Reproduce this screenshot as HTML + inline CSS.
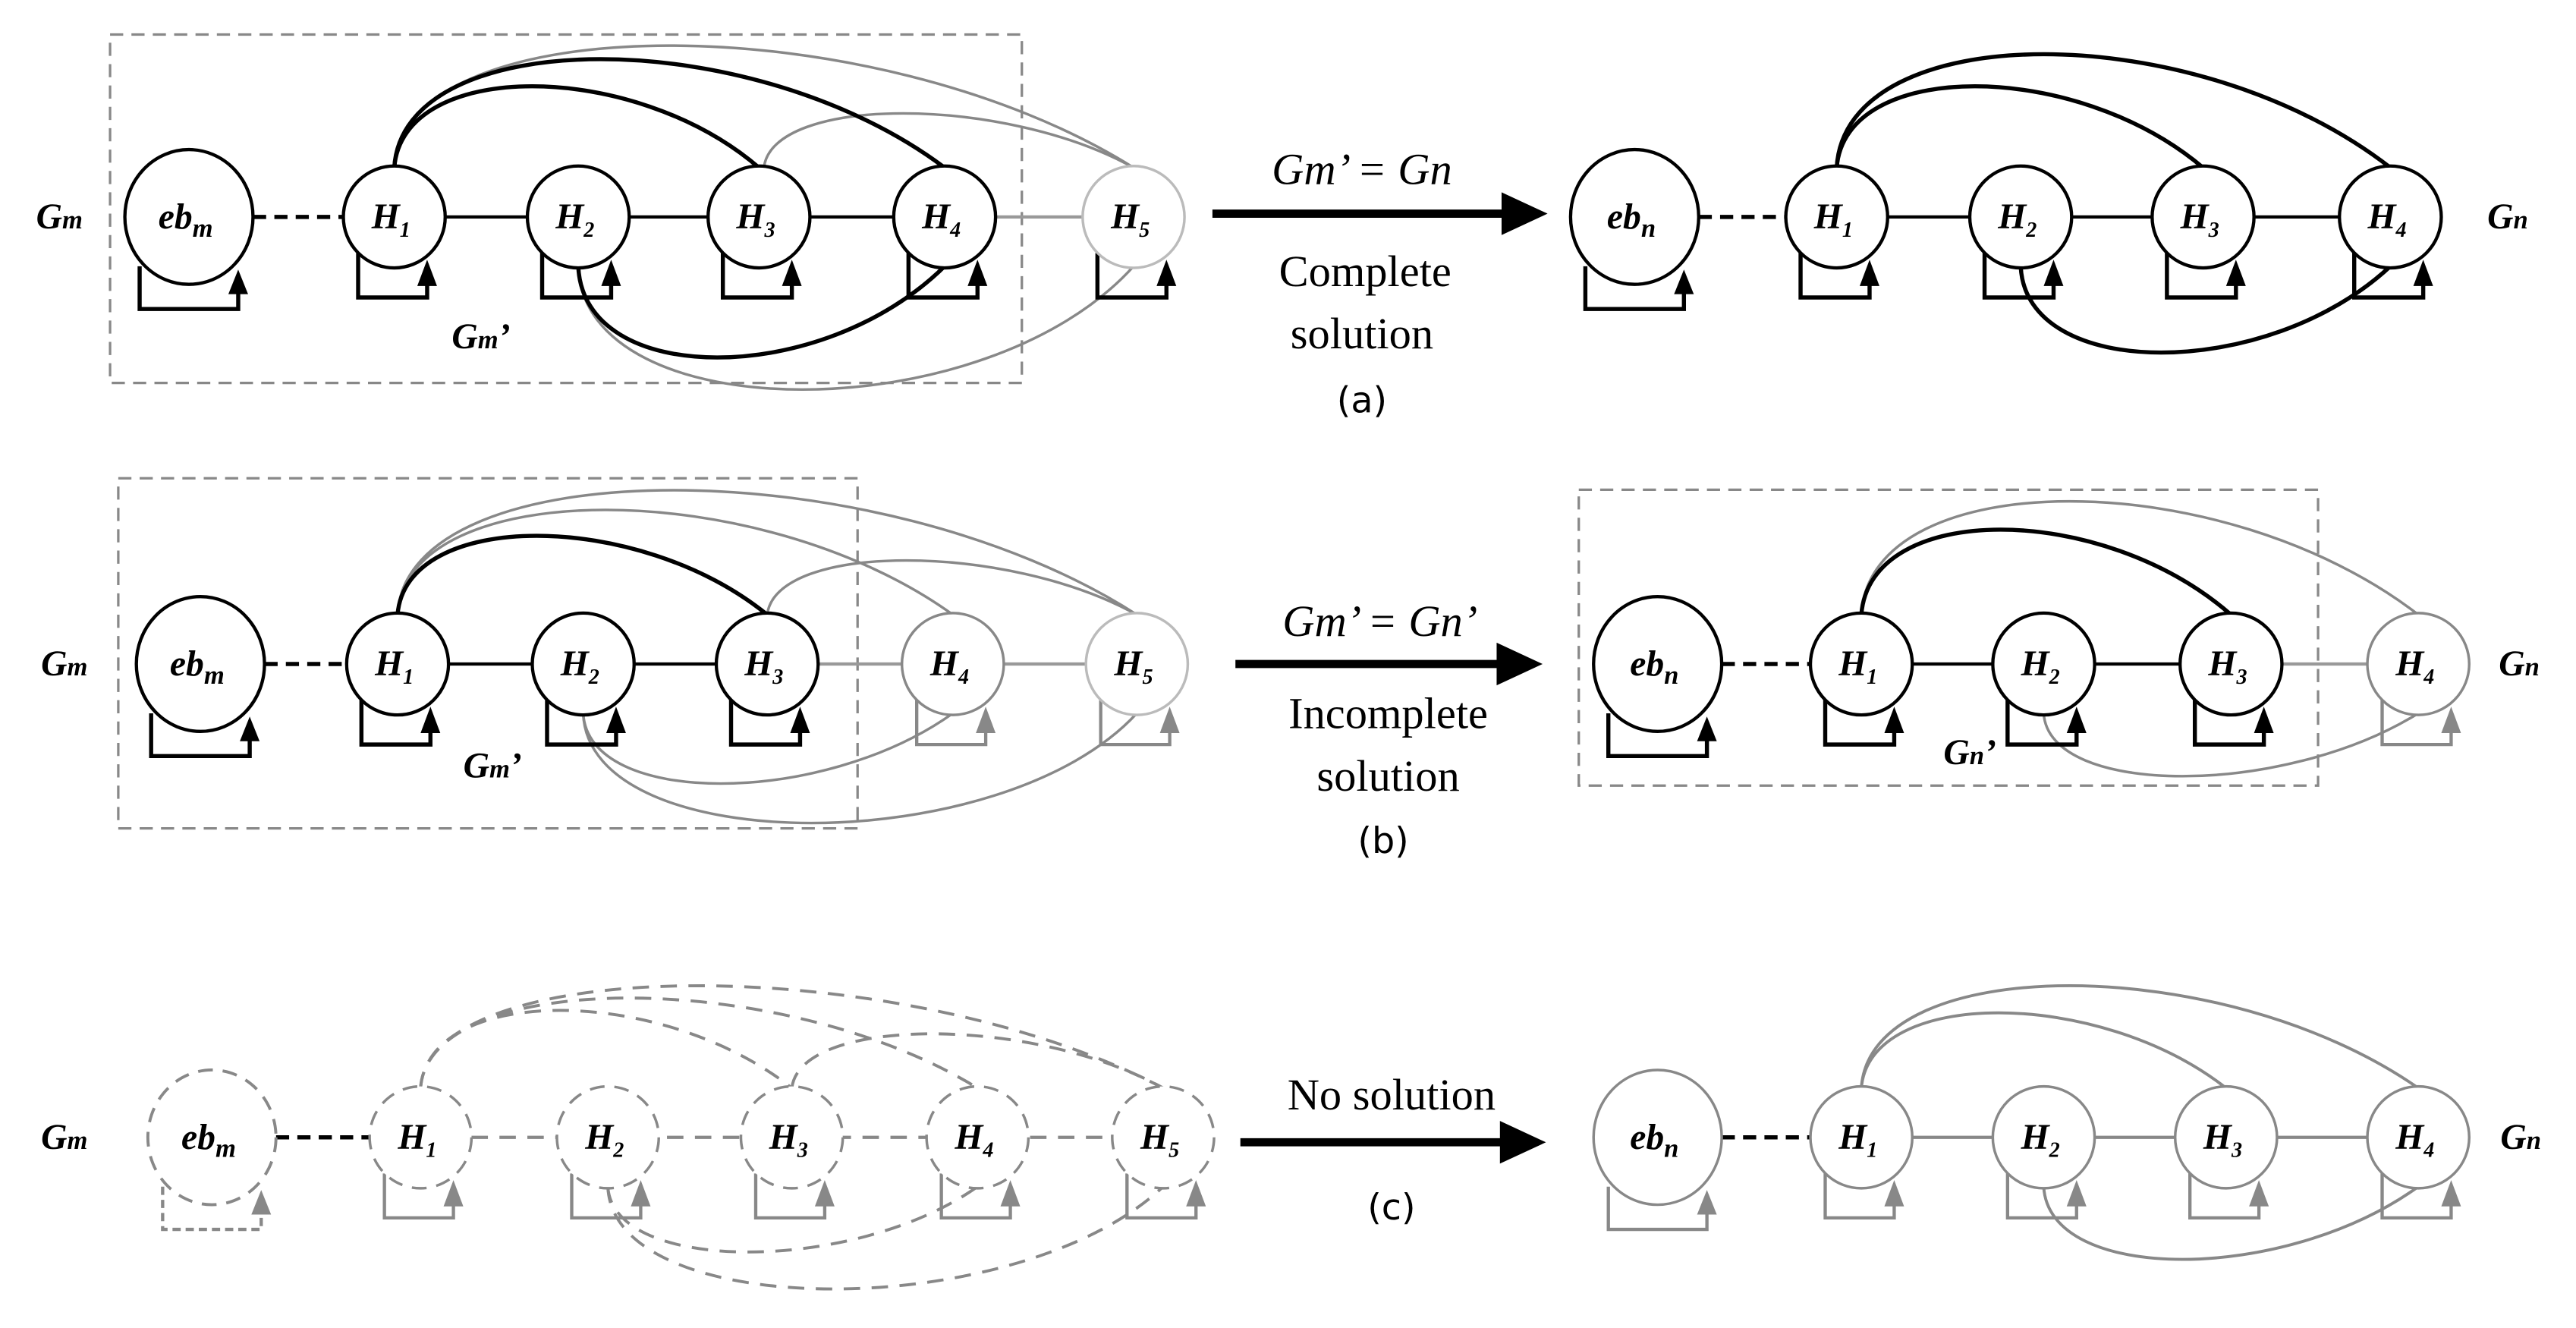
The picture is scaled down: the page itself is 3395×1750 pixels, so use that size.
<!DOCTYPE html>
<html><head><meta charset="utf-8"><style>
html,body{margin:0;padding:0;background:#fff;}
svg{display:block;}
text{font-family:"Liberation Serif",serif;}
.n{font-size:22px;font-weight:bold;font-style:italic;}
.lb{font-size:22px;font-style:italic;font-weight:bold;}
.t{font-size:27px;}
.p{font-family:"DejaVu Sans","Liberation Sans",sans-serif;font-size:22px;}
</style></head><body>
<svg width="3395" height="1750" viewBox="0 0 1568 808" preserveAspectRatio="none" xmlns="http://www.w3.org/2000/svg">
<defs>
<g id="hk"><path d="M-22 22V49H20V40" fill="none" stroke="#000" stroke-width="2.5"/><polygon points="14,42 26,42 20,26" fill="#000"/><ellipse rx="31" ry="31" fill="#fff" stroke="#000" stroke-width="2"/></g>
<g id="hg"><path d="M-22 22V49H20V40" fill="none" stroke="#888" stroke-width="2"/><polygon points="14,42 26,42 20,26" fill="#888"/><ellipse rx="31" ry="31" fill="#fff" stroke="#888" stroke-width="1.6"/></g>
<g id="hl"><path d="M-22 22V49H20V40" fill="none" stroke="#000" stroke-width="2.5"/><polygon points="14,42 26,42 20,26" fill="#000"/><ellipse rx="31" ry="31" fill="#fff" stroke="#bbb" stroke-width="1.6"/></g>
<g id="hlg"><path d="M-22 22V49H20V40" fill="none" stroke="#888" stroke-width="2"/><polygon points="14,42 26,42 20,26" fill="#888"/><ellipse rx="31" ry="31" fill="#fff" stroke="#bbb" stroke-width="1.6"/></g>
<g id="hd"><path d="M-22 22V49H20V40" fill="none" stroke="#888" stroke-width="2"/><polygon points="14,42 26,42 20,26" fill="#888"/><ellipse rx="31" ry="31" fill="#fff" stroke="#888" stroke-width="1.6" stroke-dasharray="9,6"/></g>
<g id="ek"><path d="M-30 30V56H30V46" fill="none" stroke="#000" stroke-width="2.5"/><polygon points="24,47 36,47 30,32" fill="#000"/><ellipse rx="39" ry="41" fill="#fff" stroke="#000" stroke-width="2"/></g>
<g id="eg"><path d="M-30 30V56H30V46" fill="none" stroke="#888" stroke-width="2"/><polygon points="24,47 36,47 30,32" fill="#888"/><ellipse rx="39" ry="41" fill="#fff" stroke="#888" stroke-width="1.6"/></g>
<g id="ed"><path d="M-30 30V56H30V46" fill="none" stroke="#888" stroke-width="2" stroke-dasharray="5,3"/><polygon points="24,47 36,47 30,32" fill="#888"/><ellipse rx="39" ry="41" fill="#fff" stroke="#888" stroke-width="1.8" stroke-dasharray="9,6"/></g>
</defs>

<!-- ROW A LEFT -->
<rect x="67" y="21" width="555" height="212" fill="none" stroke="#888" stroke-width="1.5" stroke-dasharray="8,5"/>
<line x1="154" y1="132" x2="209" y2="132" stroke="#000" stroke-width="2.5" stroke-dasharray="8,5"/>
<line x1="271" y1="132" x2="544" y2="132" stroke="#000" stroke-width="2"/>
<line x1="606" y1="132" x2="659" y2="132" stroke="#999" stroke-width="2"/>
<g fill="none">
<path d="M240 102C245 3,532 3,690 102" stroke="#888" stroke-width="1.6"/>
<path d="M465 102C470 58,611 58,690 102" stroke="#888" stroke-width="1.6"/>
<path d="M240 102C245 36,385 36,462 102" stroke="#000" stroke-width="2.5"/>
<path d="M240 102C245 14,458 14,575 102" stroke="#000" stroke-width="2.5"/>
<path d="M352 162C355 262,600 262,690 162" stroke="#888" stroke-width="1.6"/>
<path d="M352 162C355 236,500 236,575 162" stroke="#000" stroke-width="2.5"/>
</g>
<use href="#ek" x="115" y="132"/><use href="#hk" x="240" y="132"/><use href="#hk" x="352" y="132"/><use href="#hk" x="462" y="132"/><use href="#hk" x="575" y="132"/><use href="#hl" x="690" y="132"/>
<g class="n" text-anchor="middle">
<text x="113" y="139">eb<tspan font-size="16" dy="5">m</tspan></text>
<text x="238" y="139">H<tspan font-size="13" dy="5">1</tspan></text>
<text x="350" y="139">H<tspan font-size="13" dy="5">2</tspan></text>
<text x="460" y="139">H<tspan font-size="13" dy="5">3</tspan></text>
<text x="573" y="139">H<tspan font-size="13" dy="5">4</tspan></text>
<text x="688" y="139">H<tspan font-size="13" dy="5">5</tspan></text>
</g>
<text class="lb" x="22" y="139">G<tspan font-size="16">m</tspan></text>
<text class="lb" x="275" y="212">G<tspan font-size="16">m</tspan>’</text>
<line x1="738" y1="130" x2="918" y2="130" stroke="#000" stroke-width="5"/>
<polygon points="914,117 942,130 914,143" fill="#000"/>
<text x="829" y="112" text-anchor="middle" class="t" font-style="italic">Gm’ = Gn</text>
<text x="831" y="174" text-anchor="middle" class="t">Complete</text>
<text x="829" y="212" text-anchor="middle" class="t">solution</text>
<text x="829" y="251" text-anchor="middle" class="p">(a)</text>

<!-- ROW A RIGHT -->
<line x1="1034" y1="132" x2="1087" y2="132" stroke="#000" stroke-width="2.5" stroke-dasharray="8,5"/>
<line x1="1149" y1="132" x2="1424" y2="132" stroke="#000" stroke-width="2"/>
<g fill="none" stroke="#000" stroke-width="2.5">
<path d="M1118 102C1123 36,1263 36,1341 102"/>
<path d="M1118 102C1123 10,1337 10,1455 102"/>
<path d="M1230 162C1233 232,1380 232,1455 162"/>
</g>
<use href="#ek" x="995" y="132"/><use href="#hk" x="1118" y="132"/><use href="#hk" x="1230" y="132"/><use href="#hk" x="1341" y="132"/><use href="#hk" x="1455" y="132"/>
<g class="n" text-anchor="middle">
<text x="993" y="139">eb<tspan font-size="16" dy="5">n</tspan></text>
<text x="1116" y="139">H<tspan font-size="13" dy="5">1</tspan></text>
<text x="1228" y="139">H<tspan font-size="13" dy="5">2</tspan></text>
<text x="1339" y="139">H<tspan font-size="13" dy="5">3</tspan></text>
<text x="1453" y="139">H<tspan font-size="13" dy="5">4</tspan></text>
</g>
<text class="lb" x="1514" y="139">G<tspan font-size="16">n</tspan></text>

<!-- ROW B LEFT -->
<rect x="72" y="291" width="450" height="213" fill="none" stroke="#888" stroke-width="1.5" stroke-dasharray="8,5"/>
<line x1="161" y1="404" x2="211" y2="404" stroke="#000" stroke-width="2.5" stroke-dasharray="8,5"/>
<line x1="273" y1="404" x2="436" y2="404" stroke="#000" stroke-width="2"/>
<line x1="498" y1="404" x2="661" y2="404" stroke="#999" stroke-width="2"/>
<g fill="none">
<path d="M242 374C247 273,535 273,692 374" stroke="#888" stroke-width="1.6"/>
<path d="M242 374C247 289,462 289,580 374" stroke="#888" stroke-width="1.6"/>
<path d="M467 374C472 330,613 330,692 374" stroke="#888" stroke-width="1.6"/>
<path d="M242 374C247 310,388 310,467 374" stroke="#000" stroke-width="2.5"/>
<path d="M355 434C358 523,610 523,692 434" stroke="#888" stroke-width="1.6"/>
<path d="M355 434C358 491,500 491,580 434" stroke="#888" stroke-width="1.6"/>
</g>
<use href="#ek" x="122" y="404"/><use href="#hk" x="242" y="404"/><use href="#hk" x="355" y="404"/><use href="#hk" x="467" y="404"/><use href="#hg" x="580" y="404"/><use href="#hlg" x="692" y="404"/>
<g class="n" text-anchor="middle">
<text x="120" y="411">eb<tspan font-size="16" dy="5">m</tspan></text>
<text x="240" y="411">H<tspan font-size="13" dy="5">1</tspan></text>
<text x="353" y="411">H<tspan font-size="13" dy="5">2</tspan></text>
<text x="465" y="411">H<tspan font-size="13" dy="5">3</tspan></text>
<text x="578" y="411">H<tspan font-size="13" dy="5">4</tspan></text>
<text x="690" y="411">H<tspan font-size="13" dy="5">5</tspan></text>
</g>
<text class="lb" x="25" y="411">G<tspan font-size="16">m</tspan></text>
<text class="lb" x="282" y="473">G<tspan font-size="16">m</tspan>’</text>
<line x1="752" y1="404" x2="915" y2="404" stroke="#000" stroke-width="5"/>
<polygon points="911,391 939,404 911,417" fill="#000"/>
<text x="840" y="387" text-anchor="middle" class="t" font-style="italic">Gm’ = Gn’</text>
<text x="845" y="443" text-anchor="middle" class="t">Incomplete</text>
<text x="845" y="481" text-anchor="middle" class="t">solution</text>
<text x="842" y="519" text-anchor="middle" class="p">(b)</text>

<!-- ROW B RIGHT -->
<rect x="961" y="298" width="450" height="180" fill="none" stroke="#888" stroke-width="1.5" stroke-dasharray="8,5"/>
<line x1="1048" y1="404" x2="1102" y2="404" stroke="#000" stroke-width="2.5" stroke-dasharray="8,5"/>
<line x1="1164" y1="404" x2="1327" y2="404" stroke="#000" stroke-width="2"/>
<line x1="1389" y1="404" x2="1441" y2="404" stroke="#999" stroke-width="2"/>
<g fill="none">
<path d="M1133 374C1138 282,1353 282,1472 374" stroke="#888" stroke-width="1.6"/>
<path d="M1133 374C1138 305,1279 305,1358 374" stroke="#000" stroke-width="2.5"/>
<path d="M1244 434C1247 485,1390 485,1472 434" stroke="#888" stroke-width="1.6"/>
</g>
<use href="#ek" x="1009" y="404"/><use href="#hk" x="1133" y="404"/><use href="#hk" x="1244" y="404"/><use href="#hk" x="1358" y="404"/><use href="#hg" x="1472" y="404"/>
<g class="n" text-anchor="middle">
<text x="1007" y="411">eb<tspan font-size="16" dy="5">n</tspan></text>
<text x="1131" y="411">H<tspan font-size="13" dy="5">1</tspan></text>
<text x="1242" y="411">H<tspan font-size="13" dy="5">2</tspan></text>
<text x="1356" y="411">H<tspan font-size="13" dy="5">3</tspan></text>
<text x="1470" y="411">H<tspan font-size="13" dy="5">4</tspan></text>
</g>
<text class="lb" x="1521" y="411">G<tspan font-size="16">n</tspan></text>
<text class="lb" x="1183" y="465">G<tspan font-size="16">n</tspan>’</text>

<!-- ROW C LEFT -->
<line x1="168" y1="692" x2="225" y2="692" stroke="#000" stroke-width="2.5" stroke-dasharray="8,5"/>
<line x1="287" y1="692" x2="679" y2="692" stroke="#888" stroke-width="2" stroke-dasharray="10,7"/>
<g fill="none" stroke="#888" stroke-width="1.8" stroke-dasharray="10,7">
<path d="M256 662C261 579,550 579,708 662"/>
<path d="M256 662C261 589,476 589,595 662"/>
<path d="M256 662C261 599,402 599,482 662"/>
<path d="M482 662C487 618,629 618,708 662"/>
<path d="M370 722C373 775,520 775,595 722"/>
<path d="M370 722C373 805,620 805,708 722"/>
</g>
<use href="#ed" x="129" y="692"/><use href="#hd" x="256" y="692"/><use href="#hd" x="370" y="692"/><use href="#hd" x="482" y="692"/><use href="#hd" x="595" y="692"/><use href="#hd" x="708" y="692"/>
<g class="n" text-anchor="middle">
<text x="127" y="699">eb<tspan font-size="16" dy="5">m</tspan></text>
<text x="254" y="699">H<tspan font-size="13" dy="5">1</tspan></text>
<text x="368" y="699">H<tspan font-size="13" dy="5">2</tspan></text>
<text x="480" y="699">H<tspan font-size="13" dy="5">3</tspan></text>
<text x="593" y="699">H<tspan font-size="13" dy="5">4</tspan></text>
<text x="706" y="699">H<tspan font-size="13" dy="5">5</tspan></text>
</g>
<text class="lb" x="25" y="699">G<tspan font-size="16">m</tspan></text>
<line x1="755" y1="695" x2="917" y2="695" stroke="#000" stroke-width="5"/>
<polygon points="913,682 941,695 913,708" fill="#000"/>
<text x="847" y="675" text-anchor="middle" class="t">No solution</text>
<text x="847" y="742" text-anchor="middle" class="p">(c)</text>

<!-- ROW C RIGHT -->
<line x1="1048" y1="692" x2="1102" y2="692" stroke="#000" stroke-width="2.5" stroke-dasharray="8,5"/>
<line x1="1164" y1="692" x2="1441" y2="692" stroke="#888" stroke-width="2"/>
<g fill="none" stroke="#888" stroke-width="1.8">
<path d="M1133 662C1138 579,1353 579,1472 662"/>
<path d="M1133 662C1138 601,1277 601,1355 662"/>
<path d="M1244 722C1247 781,1390 781,1472 722"/>
</g>
<use href="#eg" x="1009" y="692"/><use href="#hg" x="1133" y="692"/><use href="#hg" x="1244" y="692"/><use href="#hg" x="1355" y="692"/><use href="#hg" x="1472" y="692"/>
<g class="n" text-anchor="middle">
<text x="1007" y="699">eb<tspan font-size="16" dy="5">n</tspan></text>
<text x="1131" y="699">H<tspan font-size="13" dy="5">1</tspan></text>
<text x="1242" y="699">H<tspan font-size="13" dy="5">2</tspan></text>
<text x="1353" y="699">H<tspan font-size="13" dy="5">3</tspan></text>
<text x="1470" y="699">H<tspan font-size="13" dy="5">4</tspan></text>
</g>
<text class="lb" x="1522" y="699">G<tspan font-size="16">n</tspan></text>
</svg>
</body></html>
